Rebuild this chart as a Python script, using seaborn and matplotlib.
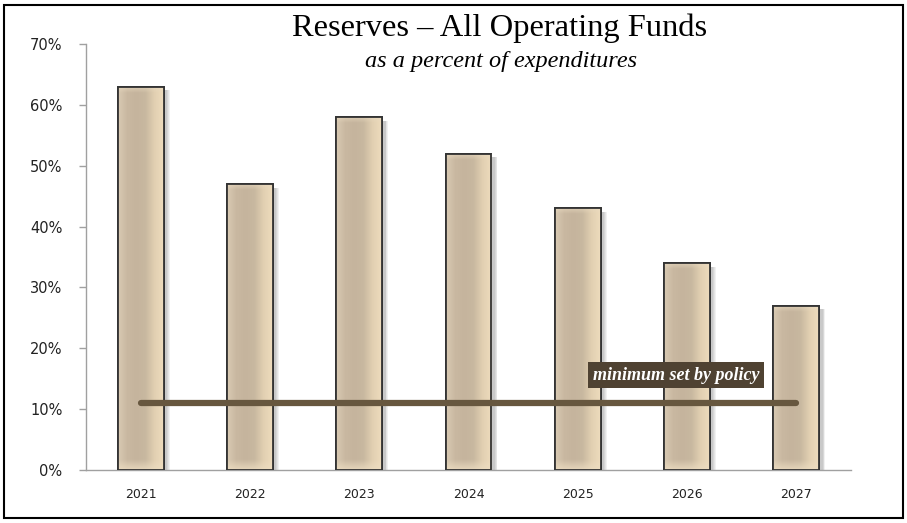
import numpy as np
import pandas as pd
import matplotlib
matplotlib.use("Agg")
import matplotlib.pyplot as plt
from matplotlib.colors import LinearSegmentedColormap
from matplotlib.patches import Rectangle
import seaborn as sns

# Reserve levels by fiscal year (percent of expenditures)
years = ["2021", "2022", "2023", "2024", "2025", "2026", "2027"]
reserves_pct = [63, 47, 58, 52, 43, 34, 27]
policy_minimum = 11
policy_label = "minimum set by policy"

title = "Reserves \u2013 All Operating Funds"
subtitle = "as a percent of expenditures"
y_ticks = [0, 10, 20, 30, 40, 50, 60, 70]

sns.set_theme(style="white")
plt.rcParams["font.family"] = ["DejaVu Sans"]

fig = plt.figure(figsize=(9.07, 5.23), dpi=100)
ax = fig.add_axes([86 / 907, 53 / 523, (851 - 86) / 907, (470 - 44) / 523])

df = pd.DataFrame({"year": years, "pct": reserves_pct})
sns.barplot(data=df, x="year", y="pct", ax=ax, width=0.42,
            color="#C8B8A2", edgecolor="#333333", linewidth=1.3,
            saturation=1, zorder=3)

# bevelled fill and soft drop shadow for each bar
bevel = LinearSegmentedColormap.from_list(
    "bevel", ["#D9CAB3", "#C9B8A1", "#C5B49D", "#C8B8A0", "#E2D0B2", "#EEDCBD"])
bottom_glow = LinearSegmentedColormap.from_list(
    "bot", [(0.93, 0.87, 0.76, 0.85), (0.93, 0.87, 0.76, 0.0)])
top_glow = LinearSegmentedColormap.from_list(
    "top", [(0.92, 0.86, 0.76, 0.0), (0.92, 0.86, 0.76, 0.7)])
for p in list(ax.patches):
    x0, y0 = p.get_x(), p.get_y()
    w, h = p.get_width(), p.get_height()
    for k, a in enumerate([0.10, 0.10, 0.12, 0.14]):
        off = 0.055 - k * 0.008
        ax.add_patch(Rectangle((x0 + w, y0), off, h - 0.6, facecolor="#7a7a7a",
                               alpha=a, linewidth=0, zorder=2))
    grad = np.linspace(0, 1, 256).reshape(1, -1)
    im = ax.imshow(grad, cmap=bevel, aspect="auto",
                   extent=(x0, x0 + w, y0, y0 + h), zorder=3.5)
    im.set_clip_path(p)
    vgrad = np.linspace(0, 1, 64).reshape(-1, 1)
    im2 = ax.imshow(vgrad, cmap=bottom_glow, aspect="auto", origin="lower",
                    extent=(x0, x0 + w, y0, y0 + 1.8), zorder=3.6)
    im2.set_clip_path(p)
    im3 = ax.imshow(vgrad, cmap=top_glow, aspect="auto", origin="lower",
                    extent=(x0, x0 + w, y0 + h - 1.0, y0 + h), zorder=3.6)
    im3.set_clip_path(p)
    ax.add_patch(Rectangle((x0, y0), w, h, facecolor="none",
                           edgecolor="#333333", linewidth=1.3, zorder=4))

# policy minimum line
ax.plot([0, len(years) - 1], [policy_minimum, policy_minimum],
        color="#67573F", linewidth=4.5, solid_capstyle="round", zorder=5)
ax.text(4.9, 15.6, policy_label, ha="center", va="center",
        family="Liberation Serif", style="italic", weight="bold",
        fontsize=13, color="white", zorder=6,
        bbox=dict(boxstyle="square,pad=0.25", facecolor="#4F4232",
                  edgecolor="none"))

ax.set_xlim(-0.5, len(years) - 0.5)
ax.set_ylim(0, 70)
ax.set_yticks(y_ticks)
ax.set_yticklabels([f"{t}%" for t in y_ticks], fontsize=10.5, color="#222222")
ax.set_xticks(range(len(years)))
ax.set_xticklabels(years, fontsize=9, color="#222222")
ax.set_xticks(np.arange(-0.5, len(years), 1), minor=True)
ax.tick_params(axis="x", which="major", length=0, pad=13)
ax.tick_params(axis="x", which="minor", length=5, color="#a0a0a0", width=1)
ax.tick_params(axis="y", which="major", length=5, color="#a0a0a0", width=1,
               left=True, pad=12)
ax.set_xlabel("")
ax.set_ylabel("")
for s in ["top", "right"]:
    ax.spines[s].set_visible(False)
for s in ["left", "bottom"]:
    ax.spines[s].set_color("#a0a0a0")
    ax.spines[s].set_linewidth(1)

fig.text(500 / 907, 1 - 28 / 523, title, ha="center", va="center",
         family="Liberation Serif", fontsize=23.4, color="black")
fig.text(501 / 907, 1 - 61 / 523, subtitle, ha="center", va="center",
         family="Liberation Serif", style="italic", fontsize=17.5, color="black")

fig.patches.append(Rectangle((4 / 907, 5 / 523), 899 / 907, 513 / 523,
                             transform=fig.transFigure, fill=False,
                             edgecolor="black", linewidth=1.5))

fig.savefig("out.png", dpi=100)
